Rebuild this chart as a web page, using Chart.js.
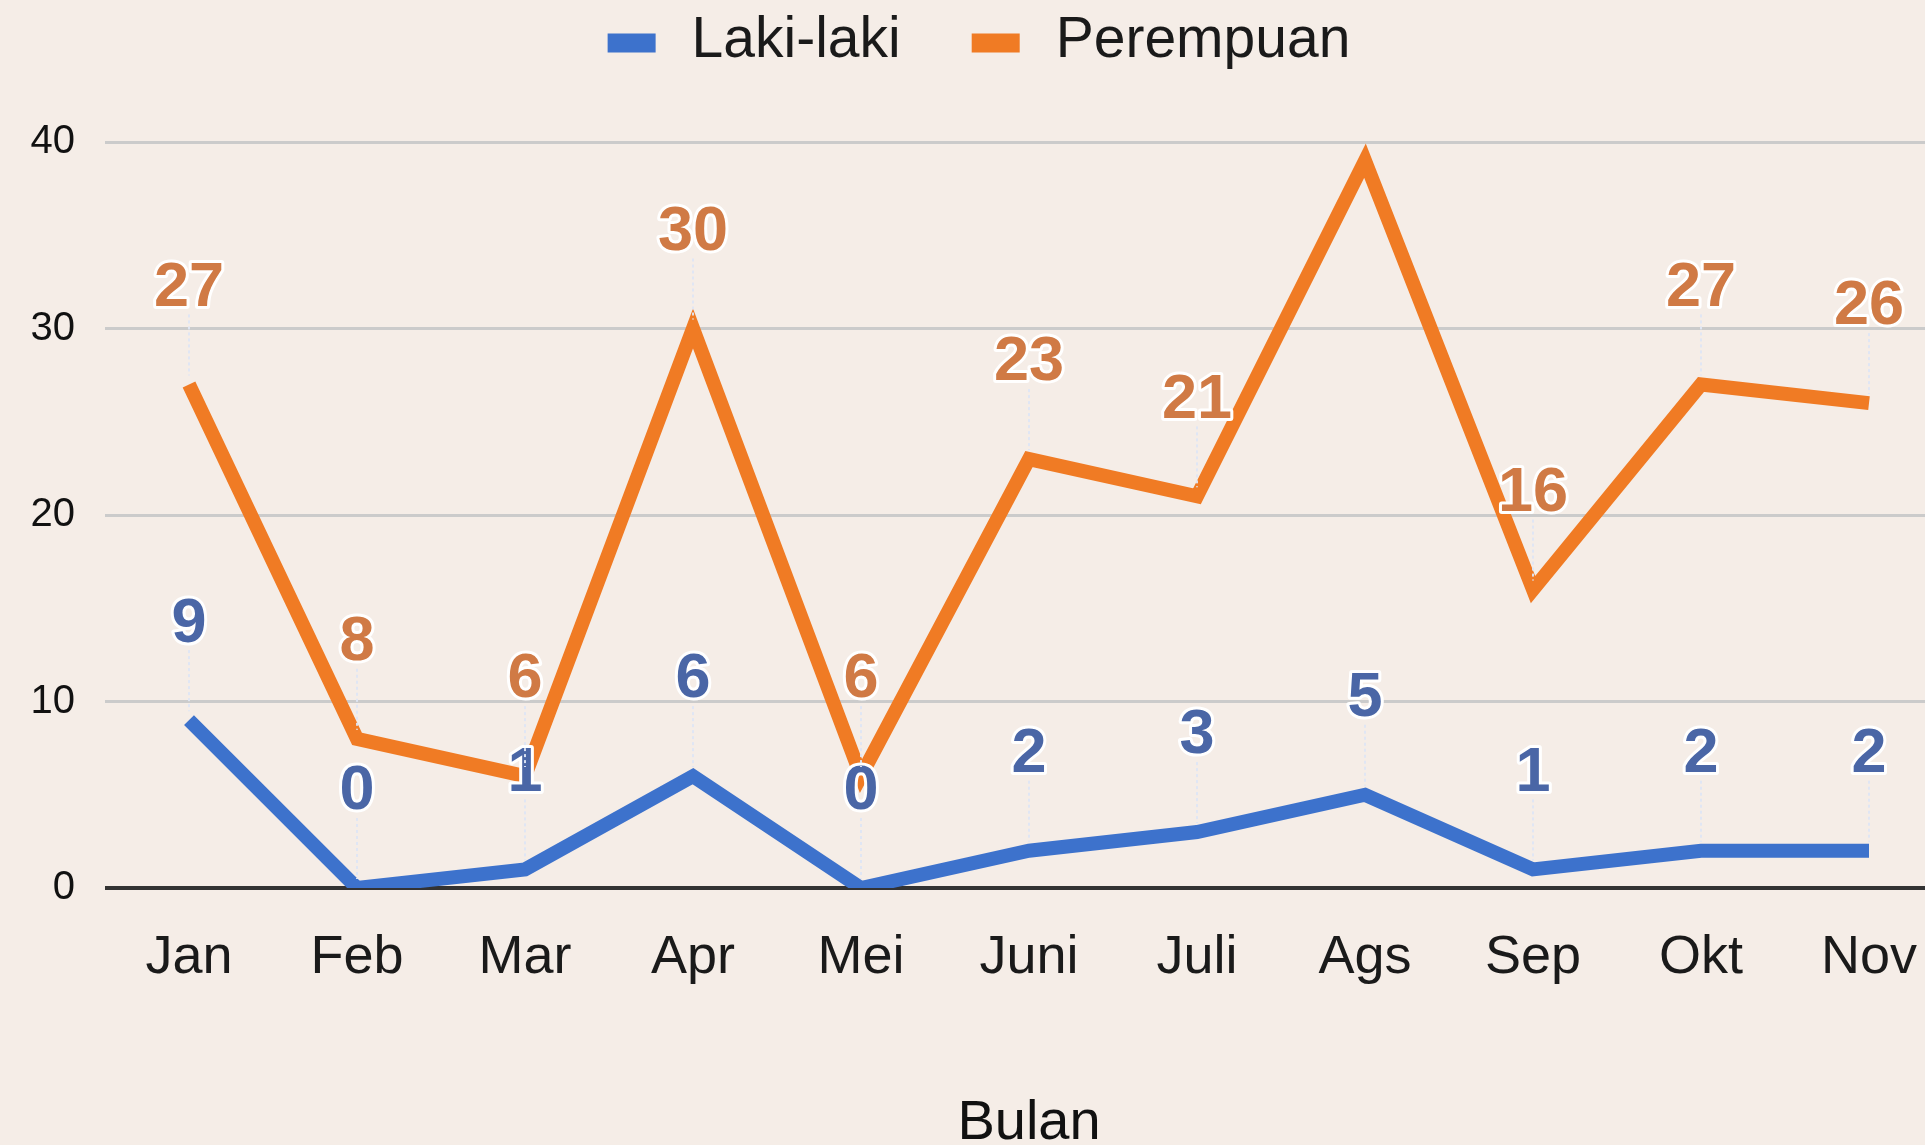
<!DOCTYPE html>
<html><head><meta charset="utf-8">
<script src="https://cdn.jsdelivr.net/npm/chart.js@4/dist/chart.umd.min.js"></script>
<style>html,body{margin:0;padding:0;overflow:hidden;background:#f5ede7;}canvas{display:block;}</style>
</head><body>
<canvas id="c" width="1958" height="1145" style="width:1958px;height:1145px"></canvas>
<script>
const months = ['Jan','Feb','Mar','Apr','Mei','Juni','Juli','Ags','Sep','Okt','Nov'];
const lakiLaki = [9,0,1,6,0,2,3,5,1,2,2];
const perempuan = [27,8,6,30,6,23,21,39,16,27,26];
const yTicks = [0,10,20,30,40];
const seriesNames = ['Laki-laki','Perempuan'];
const axisTitle = 'Bulan';

const FONT = '"Liberation Sans", Arial, sans-serif';
const BG = '#f5ede7';
const lineColors = ['#3d72cc', '#f07b24'];
const labelColors = ['#4a66a6', '#d07a45'];
const LEGEND_Y = 41, LEGEND_BOTTOM = 70;

const bgPlugin = {
  id: 'bg',
  beforeDraw(chart) {
    const ctx = chart.ctx;
    ctx.save();
    ctx.fillStyle = BG;
    ctx.fillRect(0, 0, chart.width, chart.height);
    ctx.restore();
  }
};

const legendPlugin = {
  id: 'customLegend',
  afterDraw(chart) {
    const ctx = chart.ctx;
    ctx.save();
    ctx.font = '57px ' + FONT;
    const boxW = 48, boxH = 19, gapBT = 36, gapItems = 71;
    const items = chart.data.datasets.map(d => ({ text: d.label, color: d.borderColor, w: ctx.measureText(d.label).width }));
    let total = 0;
    items.forEach((it, i) => { total += boxW + gapBT + it.w + (i < items.length - 1 ? gapItems : 0); });
    let x = chart.width / 2 - total / 2;
    ctx.textBaseline = 'middle';
    ctx.textAlign = 'left';
    items.forEach(it => {
      ctx.fillStyle = it.color;
      ctx.fillRect(x, LEGEND_Y + 2 - boxH / 2, boxW, boxH);
      x += boxW + gapBT;
      ctx.fillStyle = '#1a1a1a';
      ctx.fillText(it.text, x, LEGEND_Y);
      x += it.w + gapItems;
    });
    ctx.restore();
  }
};

const labelPlugin = {
  id: 'valueLabels',
  afterDatasetsDraw(chart) {
    const ctx = chart.ctx;
    ctx.save();
    ctx.font = 'bold 63px ' + FONT;
    ctx.textAlign = 'center';
    ctx.textBaseline = 'middle';
    chart.data.datasets.forEach((ds, di) => {
      const meta = chart.getDatasetMeta(di);
      meta.data.forEach((pt, i) => {
        const v = ds.data[i];
        const cy = pt.y - 96;
        if (cy - 24 < LEGEND_BOTTOM) return;
        ctx.save();
        ctx.strokeStyle = 'rgba(222,230,244,0.95)';
        ctx.lineWidth = 2;
        ctx.setLineDash([3, 3]);
        ctx.beginPath();
        ctx.moveTo(pt.x, cy + 26);
        ctx.lineTo(pt.x, pt.y - 9);
        ctx.stroke();
        ctx.restore();
        const t = String(v);
        ctx.lineJoin = 'round';
        ctx.strokeStyle = '#ffffff';
        ctx.lineWidth = 6;
        ctx.strokeText(t, pt.x, cy);
        ctx.fillStyle = labelColors[di];
        ctx.fillText(t, pt.x, cy);
      });
    });
    ctx.restore();
  }
};

new Chart(document.getElementById('c'), {
  type: 'line',
  data: {
    labels: months,
    datasets: [
      { label: seriesNames[0], data: lakiLaki, borderColor: lineColors[0], backgroundColor: lineColors[0],
        borderWidth: 14, pointRadius: 0, pointHoverRadius: 0, tension: 0, borderJoinStyle: 'miter', borderCapStyle: 'butt', fill: false },
      { label: seriesNames[1], data: perempuan, borderColor: lineColors[1], backgroundColor: lineColors[1],
        borderWidth: 14, pointRadius: 0, pointHoverRadius: 0, tension: 0, borderJoinStyle: 'miter', borderCapStyle: 'butt', fill: false }
    ]
  },
  options: {
    responsive: false,
    animation: false,
    devicePixelRatio: 1,
    layout: { padding: { top: 142, left: 0, right: 5, bottom: 0 } },
    plugins: { legend: { display: false }, tooltip: { enabled: false } },
    scales: {
      x: {
        type: 'category',
        offset: true,
        grid: { display: false },
        border: { display: false },
        ticks: { color: '#1a1a1a', font: { family: FONT, size: 54 }, padding: 30, maxRotation: 0, autoSkip: false },
        title: { display: true, text: axisTitle, color: '#111', font: { family: FONT, size: 56, lineHeight: 0.78 }, padding: { top: 0, bottom: 0 } },
        afterFit(s) { s.height = 257; }
      },
      y: {
        min: 0, max: 40,
        afterBuildTicks(s) { s.ticks = yTicks.map(v => ({ value: v })); },
        grid: {
          color: c => c.tick.value === 0 ? '#333333' : '#cbcbcb',
          lineWidth: c => c.tick.value === 0 ? 4 : 3,
          drawTicks: false
        },
        border: { display: false },
        ticks: { color: '#111', font: { family: FONT, size: 40 }, padding: 30 },
        afterFit(s) { s.width = 105; }
      }
    }
  },
  plugins: [bgPlugin, labelPlugin, legendPlugin]
});
</script>
</body></html>
